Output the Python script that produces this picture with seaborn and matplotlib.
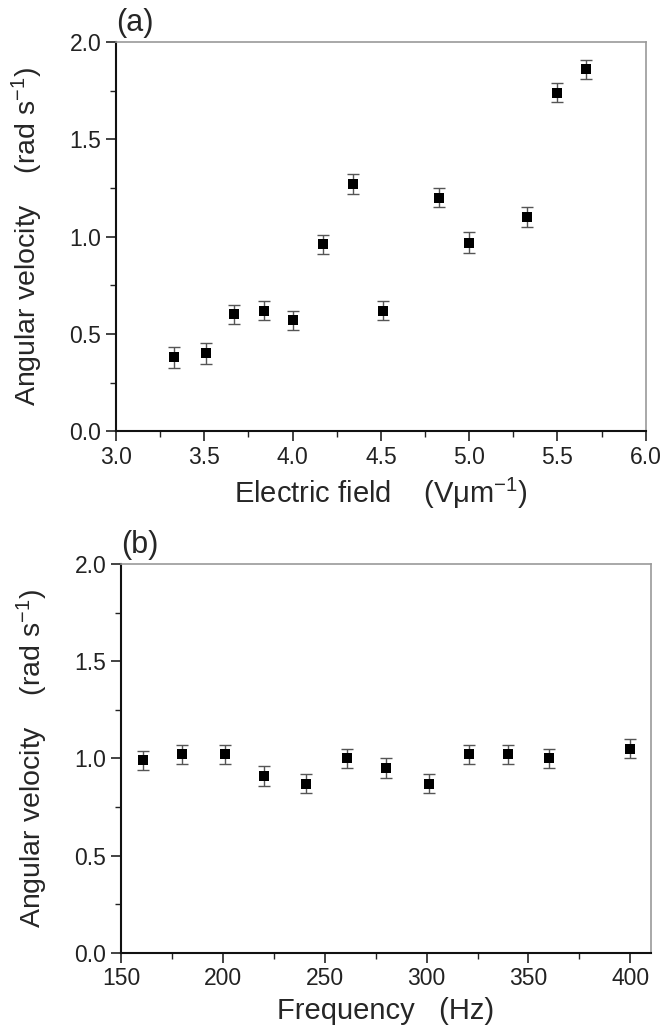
import seaborn as sns
import pandas as pd
import matplotlib.pyplot as plt
from matplotlib.ticker import MultipleLocator

# panel (a): angular velocity vs electric field
field = [3.33, 3.51, 3.67, 3.84, 4.00, 4.17, 4.34, 4.51, 4.83, 5.00, 5.33, 5.50, 5.66]
vel_a = [0.38, 0.40, 0.60, 0.62, 0.57, 0.96, 1.27, 0.62, 1.20, 0.97, 1.10, 1.74, 1.86]
err_a = [0.053, 0.053, 0.05, 0.05, 0.05, 0.05, 0.053, 0.05, 0.05, 0.053, 0.05, 0.05, 0.05]

# panel (b): angular velocity vs frequency
freq = [161, 180, 201, 220, 241, 261, 280, 301, 321, 340, 360, 400]
vel_b = [0.99, 1.02, 1.02, 0.91, 0.87, 1.00, 0.95, 0.87, 1.02, 1.02, 1.00, 1.05]
err_b = [0.05, 0.05, 0.05, 0.05, 0.05, 0.05, 0.05, 0.05, 0.05, 0.05, 0.05, 0.05]

sns.set_style('ticks')
plt.rcParams['font.family'] = ['Liberation Sans', 'DejaVu Sans']
plt.rcParams['mathtext.fontset'] = 'custom'
plt.rcParams['mathtext.rm'] = 'Liberation Sans'
plt.rcParams['mathtext.it'] = 'Liberation Sans'

fig = plt.figure(figsize=(6.63, 10.29), dpi=100)
ax1 = fig.add_axes([0.175, 0.581, 0.799, 0.378])
ax2 = fig.add_axes([0.1825, 0.074, 0.799, 0.378])


def style(ax, x, y, err, df, xcol, ycol, xlim, xmaj, xmin, tag, xlabel):
    ax.errorbar(x, y, yerr=err, fmt='none', ecolor='#555555', elinewidth=1,
                capsize=4, capthick=1, zorder=2)
    sns.scatterplot(data=df, x=xcol, y=ycol, marker='s', color='black', s=60,
                    edgecolor='black', linewidth=0, ax=ax, zorder=3)
    ax.set_xlim(*xlim)
    ax.set_ylim(0, 2.0)
    ax.xaxis.set_major_locator(MultipleLocator(xmaj))
    ax.xaxis.set_minor_locator(MultipleLocator(xmin))
    ax.yaxis.set_major_locator(MultipleLocator(0.5))
    ax.yaxis.set_minor_locator(MultipleLocator(0.25))
    ax.yaxis.set_major_formatter(plt.FormatStrFormatter('%.1f'))
    if xmaj < 1:
        ax.xaxis.set_major_formatter(plt.FormatStrFormatter('%.1f'))
    ax.tick_params(which='major', direction='out', length=7, width=1.2, labelsize=16.5, colors='#222222')
    ax.tick_params(which='minor', direction='out', length=4, width=1.0, colors='#222222')
    for s in ['left', 'bottom']:
        ax.spines[s].set_color('#111111')
        ax.spines[s].set_linewidth(1.5)
    for s in ['top', 'right']:
        ax.spines[s].set_color('#999999')
        ax.spines[s].set_linewidth(1.2)
    ax.set_xlabel(xlabel, fontsize=21, labelpad=5)
    ax.set_ylabel('Angular velocity    (rad s$^{-1}$)', fontsize=20.5, labelpad=18)
    ax.text(0.0, 1.01, tag, transform=ax.transAxes, fontsize=22,
            ha='left', va='bottom')


df_a = pd.DataFrame({'field': field, 'vel': vel_a})
df_b = pd.DataFrame({'freq': freq, 'vel': vel_b})

style(ax1, field, vel_a, err_a, df_a, 'field', 'vel', (3.0, 6.0), 0.5, 0.25, '(a)',
      'Electric field    (V$\\mu$m$^{-1}$)')
style(ax2, freq, vel_b, err_b, df_b, 'freq', 'vel', (150, 410), 50, 25, '(b)',
      'Frequency   (Hz)')

fig.savefig('out.png', dpi=100)
